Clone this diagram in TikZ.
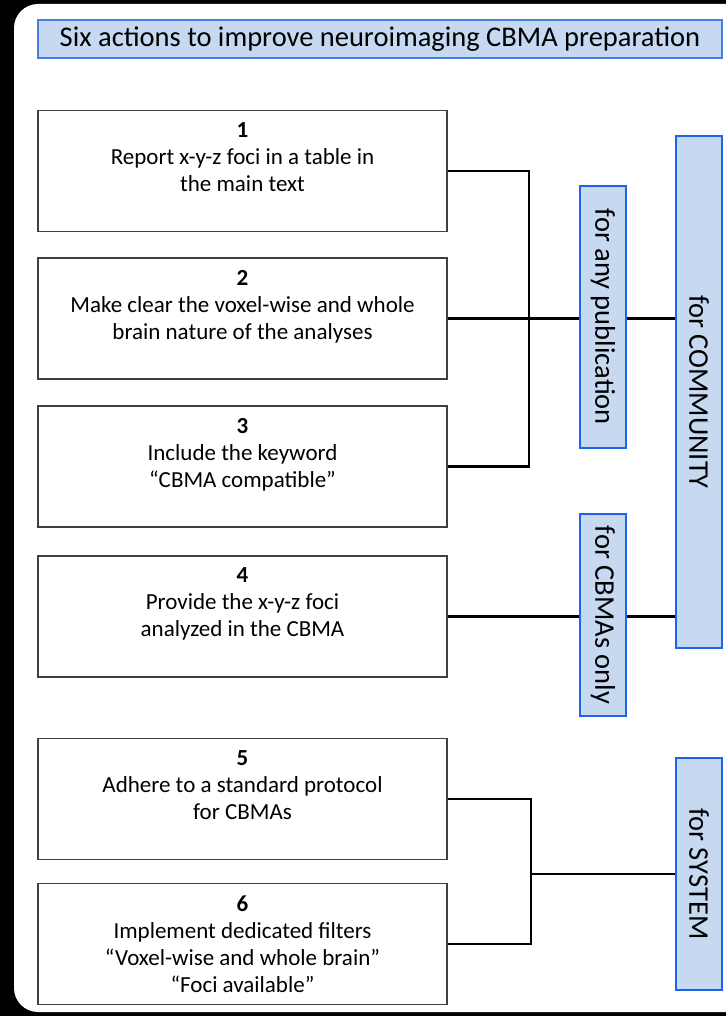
\documentclass[tikz,border=0pt]{standalone}
\usepackage{fontspec}
\setmainfont{Carlito}
\definecolor{lblue}{RGB}{198,217,241}
\definecolor{bblue}{RGB}{30,100,232}
\definecolor{tblue}{RGB}{70,125,230}
\tikzset{
  actbox/.style={draw=black!75, line width=1.3pt, fill=white, minimum width=409pt, minimum height=121pt, inner sep=0pt},
  acttext/.style={anchor=north, align=center, inner sep=0pt, font=\fontsize{23}{27}\selectfont},
  grpbox/.style={draw=bblue, line width=2pt, fill=lblue, inner sep=0pt, font=\fontsize{28.5}{32}\selectfont},
  link/.style={draw=black, line width=2.4pt},
}
\begin{document}
\begin{tikzpicture}[x=1pt,y=-1pt]
\useasboundingbox (0,0) rectangle (726,1016);
\clip (0,0) rectangle (726,1016);
\fill[black] (0,0) rectangle (726,1016);
\fill[white, rounded corners=24pt] (14,4) rectangle (780,1012);
% title
\node[draw=tblue, line width=1.8pt, fill=lblue, minimum width=684pt, minimum height=38pt, inner sep=0pt,
  font=\fontsize{28.5}{32}\selectfont] (title) at (380,39) {Six actions to improve neuroimaging CBMA preparation};
% action boxes
\node[actbox] (b1) at (242.5,171) {};
\node[actbox] (b2) at (242.5,318.5) {};
\node[actbox] (b3) at (242.5,466.5) {};
\node[actbox] (b4) at (242.5,616.5) {};
\node[actbox] (b5) at (242.5,799) {};
\node[actbox] (b6) at (242.5,944) {};
\node[acttext] (t1) at ([yshift=-12.5pt]b1.north) {\textbf{1}\\Report x-y-z foci in a table in\\the main text};
\node[acttext] (t2) at ([yshift=-12.5pt]b2.north) {\textbf{2}\\Make clear the voxel-wise and whole\\brain nature of the analyses};
\node[acttext] (t3) at ([yshift=-12.5pt]b3.north) {\textbf{3}\\Include the keyword\\“CBMA compatible”};
\node[acttext] (t4) at ([yshift=-12.5pt]b4.north) {\textbf{4}\\Provide the x-y-z foci\\analyzed in the CBMA};
\node[acttext] (t5) at ([yshift=-12.5pt]b5.north) {\textbf{5}\\Adhere to a standard protocol\\for CBMAs};
\node[acttext] (t6) at ([yshift=-12.5pt]b6.north) {\textbf{6}\\Implement dedicated filters\\“Voxel-wise and whole brain”\\“Foci available”};
% group boxes
\node[grpbox, minimum width=46pt, minimum height=262pt] (pub) at (603,317) {\rotatebox{-90}{for any publication}};
\node[grpbox, minimum width=46pt, minimum height=202pt] (cbma) at (603,615) {\rotatebox{-90}{for CBMAs only}};
\node[grpbox, minimum width=46pt, minimum height=512pt] (com) at (699,392) {\rotatebox{-90}{for COMMUNITY}};
\node[grpbox, minimum width=46pt, minimum height=232pt] (sys) at (699,874) {\rotatebox{-90}{for SYSTEM}};
% connectors
\coordinate (j1) at (529,318.5);
\coordinate (j2) at (531,874);
\draw[link] (b1.east) -| (j1) |- (b3.east);
\draw[link] (b2.east) -- (b2.east -| pub.west);
\draw[link] (pub.east |- b2.east) -- (b2.east -| com.west);
\draw[link] (b4.east) -- (b4.east -| cbma.west);
\draw[link] (cbma.east |- b4.east) -- (b4.east -| com.west);
\draw[link] (b5.east) -| (j2) |- (b6.east);
\draw[link] (j2) -- (j2 -| sys.west);
\end{tikzpicture}
\end{document}
